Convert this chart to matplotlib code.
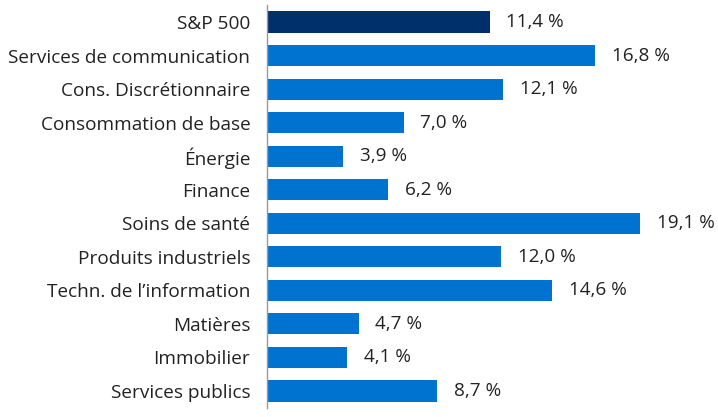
import matplotlib.pyplot as plt
import numpy as np

secteurs = ["S&P 500", "Services de communication", "Cons. Discrétionnaire",
            "Consommation de base", "Énergie", "Finance", "Soins de santé",
            "Produits industriels", "Techn. de l\u2019information", "Matières",
            "Immobilier", "Services publics"]
valeurs = [11.4, 16.8, 12.1, 7.0, 3.9, 6.2, 19.1, 12.0, 14.6, 4.7, 4.1, 8.7]
couleurs = ["#00306b"] + ["#0072cf"] * (len(valeurs) - 1)

plt.rcParams['font.family'] = ['Open Sans', 'DejaVu Sans']

fig = plt.figure(figsize=(7.18, 4.17), dpi=100)
ax = fig.add_axes([267 / 718, 9 / 417, 1 - 267 / 718, 403 / 417])

y = np.arange(len(secteurs))
ax.barh(y, valeurs, height=0.63, color=couleurs)

for yi, v in zip(y, valeurs):
    ax.annotate(f"{v:.1f} %".replace(".", ","), (v, yi), xytext=(12, 0),
                textcoords="offset points", va="center", ha="left",
                fontsize=13.6, color="#222222")

ax.set_xlim(0, 23.09)
ax.set_ylim(len(secteurs) - 1 + 0.507, -0.507)
ax.set_yticks(y)
ax.set_yticklabels(secteurs, fontsize=13.7, color="#222222")
ax.set_xticks([])
ax.tick_params(axis="y", length=0, pad=12)
for s in ["top", "right", "bottom"]:
    ax.spines[s].set_visible(False)
ax.spines["left"].set_color("#999999")
ax.spines["left"].set_linewidth(1)

fig.savefig("out.png", dpi=100)
